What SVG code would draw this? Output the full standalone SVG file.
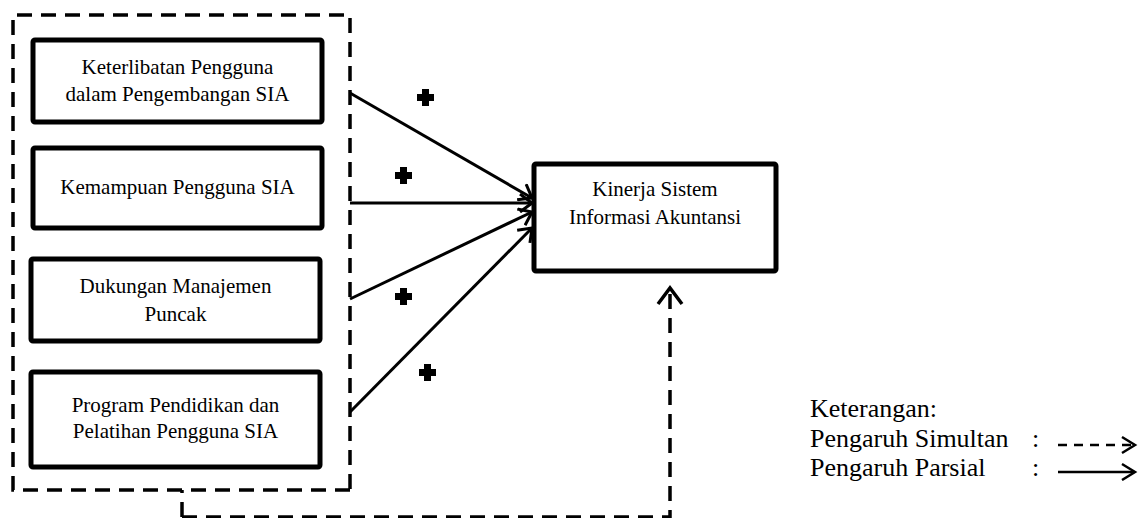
<svg xmlns="http://www.w3.org/2000/svg" width="1146" height="518" viewBox="0 0 1146 518">
<defs>
<style>
.box{fill:#fff;stroke:#000;stroke-width:5;}
.t{font-size:21px;fill:#000;text-anchor:middle;}
.lg{font-size:26px;fill:#000;}
.dash{fill:none;stroke:#000;stroke-width:3.5;stroke-dasharray:15 9;}
.solid{fill:none;stroke:#000;stroke-width:3;}
.plus{fill:#000;}
</style>
<marker id="ah" viewBox="0 0 14 20" refX="13" refY="10" markerWidth="14" markerHeight="20" markerUnits="userSpaceOnUse" orient="auto">
<path d="M1,1 L13,10 L1,19" fill="none" stroke="#000" stroke-width="3"/>
</marker>
<clipPath id="lgclip"><rect x="780" y="380" width="366" height="101"/></clipPath>
</defs>
<rect width="1146" height="518" fill="#fff"/>
<g font-family="Liberation Serif, Times New Roman, Times, DejaVu Serif, Noto Serif, serif">
<g id="group-box">
<path class="dash" d="M182,517 L182,490 M350,490 L13,490 L13,15 L350,15 L350,490"/>
</g>
<g id="n1"><rect class="box" x="33" y="40" width="289" height="82" rx="2"/>
<text class="t" x="177.5" y="74">Keterlibatan Pengguna</text>
<text class="t" x="177.5" y="101">dalam Pengembangan SIA</text></g>
<g id="n2"><rect class="box" x="33" y="148" width="289" height="80" rx="2"/>
<text class="t" x="177.5" y="194">Kemampuan Pengguna SIA</text></g>
<g id="n3"><rect class="box" x="31" y="259" width="289" height="82" rx="2"/>
<text class="t" x="175.5" y="293">Dukungan Manajemen</text>
<text class="t" x="175.5" y="321">Puncak</text></g>
<g id="n4"><rect class="box" x="31" y="372" width="289" height="95" rx="2"/>
<text class="t" x="175.5" y="412">Program Pendidikan dan</text>
<text class="t" x="175.5" y="438">Pelatihan Pengguna SIA</text></g>
<g id="target"><rect class="box" x="534" y="164" width="242" height="107" rx="2"/>
<text class="t" x="655" y="196">Kinerja Sistem</text>
<text class="t" x="655" y="224">Informasi Akuntansi</text></g>
<g id="connectors">
<line class="solid" x1="350" y1="93" x2="532" y2="198" marker-end="url(#ah)"/>
<line class="solid" x1="350" y1="203" x2="532" y2="203" marker-end="url(#ah)"/>
<line class="solid" x1="350" y1="299" x2="532" y2="212" marker-end="url(#ah)"/>
<line class="solid" x1="350" y1="412" x2="532" y2="228" marker-end="url(#ah)"/>
<path class="dash" d="M182,517 L670,517 L670,290"/>
<path d="M658,304 L670,288 L682,304" fill="none" stroke="#000" stroke-width="3.5"/>
</g>
<g id="signs">
<path class="plus" d="M422,89 h7 v5 h5 v7 h-5 v5 h-7 v-5 h-5 v-7 h5 z"/>
<path class="plus" d="M400,167 h7 v5 h5 v7 h-5 v5 h-7 v-5 h-5 v-7 h5 z"/>
<path class="plus" d="M400,288 h7 v5 h5 v7 h-5 v5 h-7 v-5 h-5 v-7 h5 z"/>
<path class="plus" d="M424,364 h7 v5 h5 v7 h-5 v5 h-7 v-5 h-5 v-7 h5 z"/>
</g>
<g id="legend" clip-path="url(#lgclip)">
<text class="lg" x="810" y="417">Keterangan:</text>
<text class="lg" x="810" y="447">Pengaruh Simultan</text>
<text class="lg" x="1032" y="447">:</text>
<text class="lg" x="810" y="476">Pengaruh Parsial</text>
<text class="lg" x="1032" y="476">:</text>
<line x1="1058" y1="445" x2="1134" y2="445" stroke="#000" stroke-width="2.5" stroke-dasharray="9 7"/>
<path d="M1122,437 L1135,445 L1122,453" fill="none" stroke="#000" stroke-width="2.5"/>
<line x1="1058" y1="472" x2="1134" y2="472" stroke="#000" stroke-width="2.5"/>
<path d="M1122,464 L1135,472 L1122,480" fill="none" stroke="#000" stroke-width="2.5"/>
</g>
</g>
</svg>
